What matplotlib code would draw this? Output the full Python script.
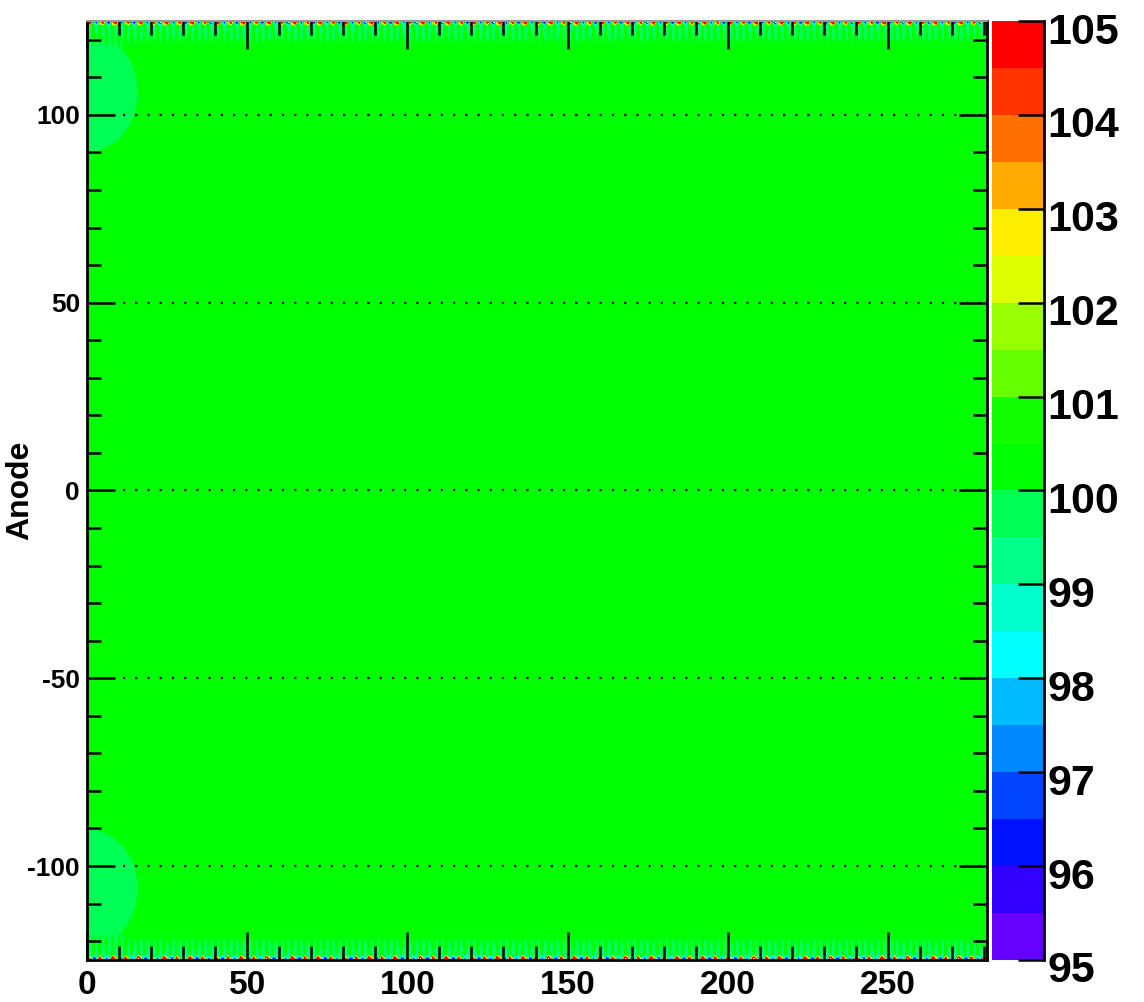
import numpy as np
import matplotlib
matplotlib.use('Agg')
import matplotlib.pyplot as plt
import matplotlib.transforms as mtransforms
from matplotlib.ticker import MultipleLocator

plt.rcParams['font.family'] = ['Liberation Sans', 'DejaVu Sans']
plt.rcParams['font.weight'] = 'bold'
plt.rcParams['axes.unicode_minus'] = False

# contour levels and ROOT-like palette (bottom -> top)
levels = np.arange(95, 105.01, 0.5)
palette = ['#6600ff', '#3300ff', '#0011ff', '#0044ff', '#0088ff',
           '#00bbff', '#00ffff', '#00ffcc', '#00ff88', '#00ff55',
           '#00ff00', '#11ff00', '#66ff00', '#99ff00', '#ddff00',
           '#ffee00', '#ffaa00', '#ff7000', '#ff3300', '#ff0000']
cbar_ticks = [95, 96, 97, 98, 99, 100, 101, 102, 103, 104, 105]
x_ticks = [0, 50, 100, 150, 200, 250]
y_ticks = [-100, -50, 0, 50, 100]

# field
x_range = (0, 281)
y_range = (-125, 125)
field_level = 100.3
blob_level = 99.6
blob_centers = [(0, 106), (0, -106)]
blob_radius = 16
edge_pattern = [110, 104, 90, 96, 108, 102, 92, 98]
edge_inner1 = [100.3, 98.9]
edge_inner2 = [100.3, 99.6]

xs = np.arange(x_range[0], x_range[1] + 0.5, 1.0)
ys = np.concatenate([[-125, -123.6, -120],
                     np.linspace(-118, 118, 160),
                     [120, 123.6, 125]])
X, Y = np.meshgrid(xs, ys)
r = np.min([np.hypot(X - cx, Y - cy) for cx, cy in blob_centers], axis=0)
Z = np.clip(blob_level + (100.0 - blob_level) * r / blob_radius, None, field_level)
edge = np.resize(edge_pattern, len(xs))
Z[0, :] = edge
Z[-1, :] = edge[::-1]
Z[1, :] = np.resize(edge_inner1, len(xs))
Z[-2, :] = np.resize(edge_inner1, len(xs))
Z[2, :] = np.resize(edge_inner2, len(xs))
Z[-3, :] = np.resize(edge_inner2, len(xs))

fig = plt.figure(figsize=(11.44, 10.02), dpi=100)
ax = fig.add_axes([0.076, 0.042, 0.787, 0.937])
cax = fig.add_axes([0.867, 0.042, 0.046, 0.937])

cs = ax.contourf(X, Y, Z, levels=levels, colors=palette)
ax.set_xlim(*x_range)
ax.set_ylim(*y_range)

for yv in y_ticks:
    ax.axhline(yv, color='black', lw=1.6, ls=(0, (1, 4.5)), xmin=0.04)

ax.set_xticks(x_ticks)
ax.set_yticks(y_ticks)
ax.xaxis.set_minor_locator(MultipleLocator(10))
ax.yaxis.set_minor_locator(MultipleLocator(10))
ax.tick_params(which='major', direction='in', top=True, right=True,
               length=20, width=1.8, color='black')
ax.tick_params(which='minor', direction='in', top=True, right=True,
               length=10, width=1.8, color='black')
ax.tick_params(axis='x', which='major', labelsize=24, pad=7)
ax.tick_params(axis='y', which='major', labelsize=19, pad=5)
ax.set_ylabel('Anode', fontsize=23, fontweight='bold')
ax.yaxis.set_label_coords(-0.058, 0.5)
for s in ['left', 'bottom', 'right']:
    ax.spines[s].set_linewidth(2)
ax.spines['top'].set_color('#999999')
ax.spines['top'].set_linewidth(1.5)

# colour bar
cax.contourf([0, 1], levels, np.array([levels, levels]).T, levels=levels, colors=palette)
cax.set_xlim(0, 1)
cax.set_ylim(levels[0], levels[-1])
cax.set_xticks([])
cax.yaxis.tick_right()
cax.set_yticks(cbar_ticks)
cax.tick_params(axis='y', direction='in', length=19, width=1.8,
                labelsize=31, pad=2)
shift = mtransforms.ScaledTranslation(0, -7 / 100, fig.dpi_scale_trans)
for lab in cax.get_yticklabels():
    lab.set_transform(lab.get_transform() + shift)
for s in ['left', 'top', 'bottom']:
    cax.spines[s].set_visible(False)
cax.spines['right'].set_linewidth(2)

fig.savefig('out.png', dpi=100)
